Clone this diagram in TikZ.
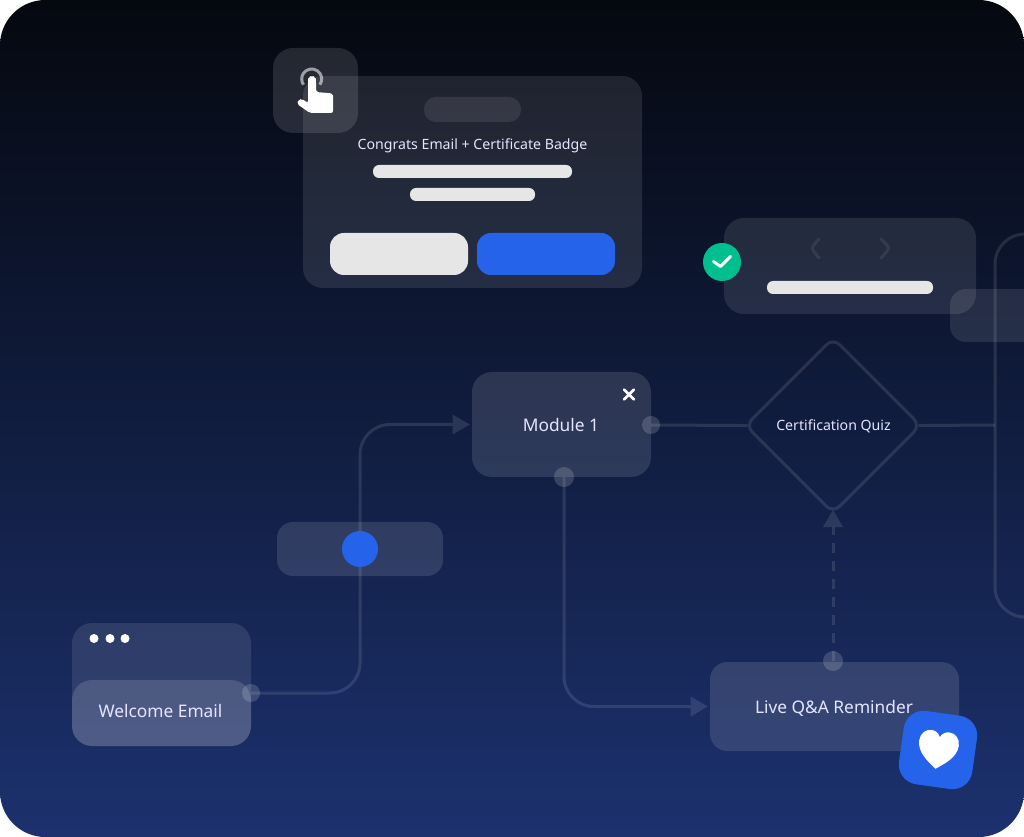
\documentclass[tikz,border=0pt]{standalone}
\usepackage{fontspec}
\setmainfont{Noto Sans}
\usetikzlibrary{arrows.meta,shapes.geometric}
\definecolor{bgtop}{HTML}{05080F}
\definecolor{bgmid}{HTML}{11204A}
\definecolor{bgbottom}{HTML}{1C316E}
\definecolor{blueaccent}{HTML}{2563EB}
\definecolor{greenaccent}{HTML}{00BF8F}
\definecolor{barlight}{HTML}{E6E6E6}
\begin{document}
\begin{tikzpicture}
[x=0.75pt,y=-0.75pt,
  boxsize/.style 2 args={minimum width=#1*0.75pt,minimum height=#2*0.75pt},%
  cardbox/.style={shape=rectangle,rounded corners=15pt,inner sep=0pt,fill=white,fill opacity=.12},%
  barbox/.style={shape=rectangle,rounded corners=4.5pt,inner sep=0pt,fill=barlight},%
  portdot/.style={shape=circle,inner sep=0pt,minimum size=#1*0.75pt,fill=white,fill opacity=.16},%
  whitedot/.style={shape=circle,inner sep=0pt,minimum size=9*0.75pt,fill=white},%
  labeltext/.style={inner sep=0pt,text=white!90!blue,font=\fontsize{13}{15}\selectfont},%
  smalltext/.style={labeltext,font=\fontsize{10.6}{13}\selectfont},%
  flowline/.style={draw=white,opacity=.11,line width=2.25pt},%
  flowarrow/.style={flowline,-{Triangle[length=12.75pt,width=15pt,line width=0pt,fill=white]}},%
  iconline/.style={draw=white,line width=2.25pt,line cap=round,line join=round}]
\useasboundingbox (0,0) rectangle (1024,837);
%% background
\fill[white] (0,0) rectangle (1024,837);
\path[rounded corners=34pt,top color=bgtop,middle color=bgmid,bottom color=bgbottom] (0,0) rectangle (1024,837);
%% cards
\node (congrats) at (472.5,182) [cardbox,boxsize={339}{212},fill opacity=.1] {};
\node (touch) at (315.5,90.5) [cardbox,boxsize={85}{85}] {};
\node (result) at (850,266) [cardbox,boxsize={252}{96},fill opacity=.1] {};
\node (gate) at (360,549) [cardbox,boxsize={166}{54},rounded corners=12pt] {};
\node (module) at (561.5,424.5) [cardbox,boxsize={179}{105}] {};
\node (live) at (834.5,706.5) [cardbox,boxsize={249}{89},rounded corners=13pt] {};
\node (window) at (161.5,684.5) [cardbox,boxsize={179}{123},fill opacity=.1] {};
\node (welcome) at (161.5,713) [cardbox,boxsize={179}{66},fill opacity=.14] {};
\node (quiz) at (833,425.5) [shape=diamond,aspect=1,rounded corners=7pt,inner sep=0pt,minimum size=176*0.75pt,draw=white,draw opacity=.11,line width=2.25pt] {};
\begin{scope}
\clip (0,0) rectangle (1024,837);
\node (side) at (1010,315.5) [cardbox,boxsize={120}{53},fill opacity=.1,rounded corners=12pt] {};
\end{scope}
%% labels
\foreach \nodename/\x/\y/\labeltxt in {moduletext/561/425.5/Module 1, livetext/834/708.5/Live Q\&A Reminder, welcometext/160.5/710.5/Welcome Email} {
  \node (\nodename) at (\x,\y) [labeltext] {\labeltxt};
}
\node (quiztext) at (833.5,426.5) [smalltext] {Certification Quiz};
\node (congratstext) at (472.5,145.5) [smalltext] {Congrats Email + Certificate Badge};
%% bars and buttons
\foreach \nodename/\x/\y/\w/\h in {barlong/472.5/171.5/199/13, barshort/472.5/194.5/125/13, resultbar/850/287.5/166/13} {
  \node (\nodename) at (\x,\y) [barbox,boxsize={\w}{\h}] {};
}
\node (pill) at (472.5,109.5) [cardbox,boxsize={97}{25},rounded corners=9pt,fill opacity=.09] {};
\node (cancelbtn) at (399,254) [barbox,boxsize={138}{42},rounded corners=10.5pt] {};
\node (okbtn) at (546,254) [barbox,boxsize={138}{42},rounded corners=10.5pt,fill=blueaccent] {};
%% ports
\foreach \nodename/\x/\y/\s in {moduleout/651/425/18, moduledown/564/477/20, welcomeout/251/693/18, liveup/833/661/20} {
  \node (\nodename) at (\x,\y) [portdot=\s] {};
}
%% connectors
\coordinate (busnorth) at (1024,234);
\coordinate (busjoin) at (995,425);
\coordinate (bussouth) at (1024,617);
\draw[flowarrow,rounded corners=22.5pt,shorten >=1.5pt] (welcomeout.center) -| (gate.center) |- (module.west);
\draw[flowarrow,rounded corners=22.5pt,shorten >=1.5pt] (moduledown.center) |- (live.west);
\draw[flowarrow,dash pattern=on 7.5pt off 6pt,shorten >=-3.75pt] (liveup.center) -- (quiz.south);
\draw[flowline,shorten >=-3pt] (moduleout.center) -- (quiz.west);
\draw[flowline,shorten <=-3pt] (quiz.east) -- (busjoin);
\draw[flowline,rounded corners=22.5pt] (busnorth) -| (busjoin) |- (bussouth);
%% window dots and gate dot
\foreach \nodename/\x in {dota/94, dotb/110, dotc/125} {
  \node (\nodename) at (\x,638.5) [whitedot] {};
}
\node (gatedot) at (360,549) [shape=circle,inner sep=0pt,minimum size=36*0.75pt,fill=blueaccent] {};
%% close mark
\draw[iconline,line width=1.9pt] (624,389.5) -- (634,399.5) (634,389.5) -- (624,399.5);
%% chevrons
\draw[iconline,draw opacity=.08,rounded corners=3pt] (819,239) -- (811,248) -- (819,258);
\draw[iconline,draw opacity=.08,rounded corners=3pt] (881,239) -- (890,248) -- (881,258);
%% check badge
\node (badge) at (722,262) [shape=circle,inner sep=0pt,minimum size=38*0.75pt,fill=greenaccent] {};
\draw[iconline] (713.5,261.5) -- (720.5,266.5) -- (730.5,256.5);
%% touch icon
\coordinate (ring) at (311.7,79);
\draw[draw=white,draw opacity=.55,line width=2.25pt] (ring) ++(-35:7.5pt) arc[start angle=-35,end angle=215,radius=7.5pt];
\fill[white,rounded corners=1.5pt] (308,80) -- (308.5,77) -- (312,75.5) -- (315.5,77) -- (316,80) -- (316,92) -- (333,93.5) -- (333,113) -- (310,113) -- (297,104) -- (298.5,99.5) -- (302,99) -- (308,103) -- cycle;
%% heart icon
\node (heartbox) at (938,750) [shape=rectangle,rotate=-8,rounded corners=15pt,inner sep=0pt,boxsize={74}{74},fill=blueaccent] {};
\begin{scope}[shift={(heartbox.center)},rotate=-8]
\fill[white] (0,19) .. controls (-8,13) and (-20,5) .. (-20,-7) .. controls (-20,-14) and (-15,-19) .. (-9,-19) .. controls (-5,-19) and (-2,-17) .. (0,-13) .. controls (2,-17) and (5,-19) .. (9,-19) .. controls (15,-19) and (20,-14) .. (20,-7) .. controls (20,5) and (8,13) .. (0,19) -- cycle;
\end{scope}
\end{tikzpicture}
\end{document}
